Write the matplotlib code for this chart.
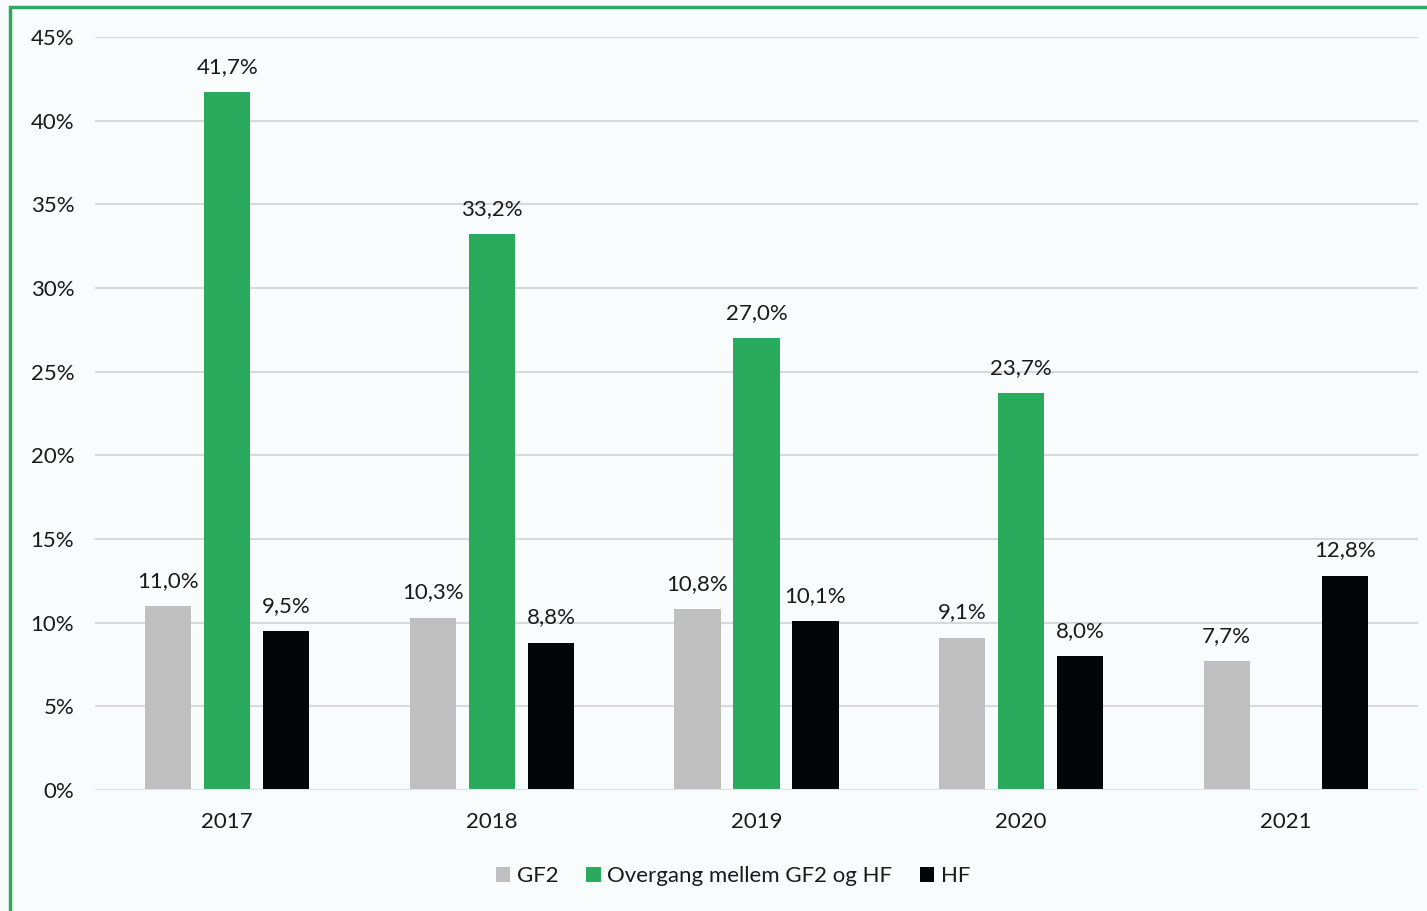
import numpy as np
import matplotlib
matplotlib.use('Agg')
import matplotlib.pyplot as plt
from matplotlib.patches import Rectangle
from matplotlib.ticker import FuncFormatter

# data (percent)
years = ['2017', '2018', '2019', '2020', '2021']
gf2 = [11.0, 10.3, 10.8, 9.1, 7.7]
overgang = [41.7, 33.2, 27.0, 23.7, np.nan]
hf = [9.5, 8.8, 10.1, 8.0, 12.8]

series_names = ['GF2', 'Overgang mellem GF2 og HF', 'HF']
series_colors = ['#bfbfbf', '#2aaa5c', '#030606']

plt.rcParams['font.family'] = ['Lato', 'DejaVu Sans']
tekst = '#1a1a1a'
baggrund = '#f8fcfd'
fs = 16

fig = plt.figure(figsize=(14.27, 9.11), dpi=100, facecolor=baggrund)
ax = fig.add_axes([95/1427, 1 - 790/911, 1323/1427, 753/911])
ax.set_facecolor(baggrund)

x = np.arange(len(years))
bredde = 0.174
afstand = 0.223

for i, (vals, navn, farve) in enumerate(zip([gf2, overgang, hf], series_names, series_colors)):
    pos = x + (i - 1) * afstand
    ax.bar(pos, vals, width=bredde, color=farve, label=navn, zorder=3)
    for p, v in zip(pos, vals):
        if np.isnan(v):
            continue
        ax.annotate(f'{v:.1f}%'.replace('.', ','), (p, v), xytext=(0, 11),
                    textcoords='offset points', ha='center', va='bottom',
                    fontsize=fs, color=tekst)

ax.set_xlim(-0.5, len(years) - 0.5)
ax.set_ylim(0, 45)
ax.set_yticks(range(0, 50, 5))
ax.yaxis.set_major_formatter(FuncFormatter(lambda v, _: f'{v:.0f}%'))
ax.set_xticks(x)
ax.set_xticklabels(years)
ax.tick_params(axis='both', length=0, labelsize=fs, labelcolor=tekst)
ax.tick_params(axis='y', pad=15)
ax.tick_params(axis='x', pad=16)

ax.grid(axis='y', color='#d9d9d9', linewidth=1.5, zorder=0)
ax.axhline(0, color='#bff3e3', linewidth=2.2, zorder=4)
for s in ax.spines.values():
    s.set_visible(False)

# legend at the bottom
fig.legend(loc='center', bbox_to_anchor=(733/1427, 1 - 876/911), ncol=3,
           frameon=False, fontsize=fs, handlelength=0.65, handleheight=0.65,
           handletextpad=0.3, columnspacing=1.25, labelcolor=tekst)

# green frame, only top and left visible
fig.patches.append(Rectangle((10/1427, -0.1), 1.2, 1 - 7/911 + 0.1,
                             transform=fig.transFigure, fill=False,
                             edgecolor='#2eaa5c', linewidth=2.5, zorder=10))

fig.savefig('out.png', dpi=100, facecolor=baggrund)
